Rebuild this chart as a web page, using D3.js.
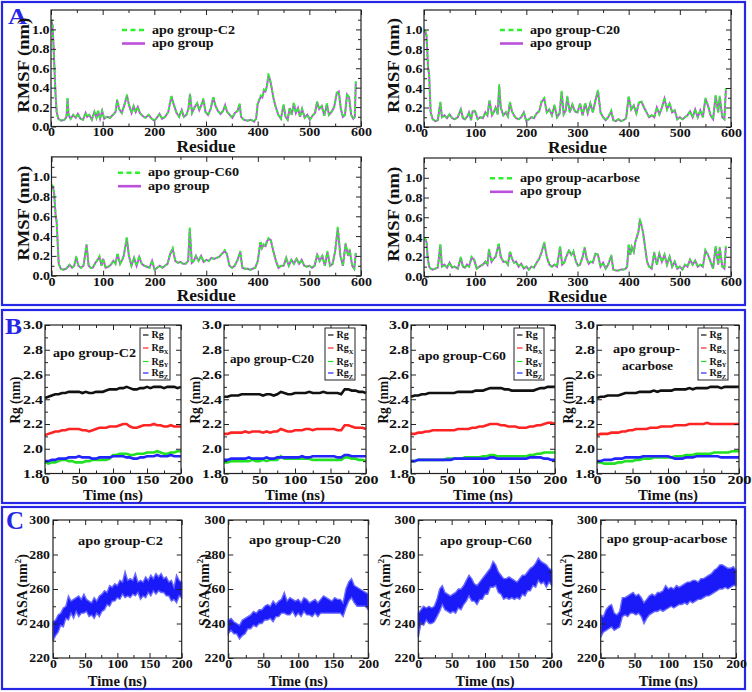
<!DOCTYPE html>
<html>
<head>
<meta charset="utf-8">
<script src="https://cdn.jsdelivr.net/npm/d3@7"></script>
<style>
body { margin: 0; background: #fff; }
text { font-family: "Liberation Serif", "Times New Roman", serif; font-weight: bold; }
</style>
</head>
<body>
<svg id="fig" width="752" height="692"></svg>
<script>
// ---- RMSF data (panel A), residue positions read per panel ----
var resC2 = [1,3,5,7,9,11,14,20,26,30, 32,34,38,43,48,52,57,62,67,70, 74,79,84,88,91,95,99,103,108,114, 120,125,128,132,137,142,147,151,156,160, 164,168,172,177,183,189,195,200,205,210, 215,221,227,233,238,243,248,253,257,262, 266,269,273,278,283,287,291,295,299,304, 309,314,318,323,328,333,337,341,346,351, 356,361,365,368,373,380,387,393,397,400, 403,406,409,412,415,418,421,424,427,431, 435,440,445,450,454,458,462,466,470,474, 478,482,486,491,496,501,506,511,515,519, 524,529,534,538,543,548,553,557,561,565, 569,573,577,581,585,588,590];
var rmsfC2 = [1.10,1.05,0.80,0.55,0.30,0.15,0.08,0.06,0.07,0.10, 0.30,0.12,0.08,0.12,0.09,0.13,0.08,0.07,0.14,0.10, 0.12,0.07,0.15,0.09,0.17,0.08,0.16,0.08,0.10,0.09, 0.12,0.15,0.28,0.18,0.14,0.22,0.33,0.22,0.14,0.21, 0.15,0.20,0.14,0.11,0.09,0.12,0.08,0.06,0.09,0.13, 0.08,0.10,0.15,0.32,0.22,0.14,0.10,0.17,0.10,0.12, 0.18,0.34,0.14,0.20,0.24,0.17,0.22,0.29,0.15,0.12, 0.18,0.31,0.22,0.16,0.13,0.16,0.22,0.15,0.12,0.09, 0.14,0.16,0.24,0.10,0.07,0.06,0.07,0.05,0.08,0.24, 0.28,0.32,0.30,0.38,0.36,0.42,0.55,0.48,0.40,0.28, 0.20,0.12,0.08,0.23,0.10,0.07,0.19,0.12,0.25,0.14, 0.19,0.10,0.18,0.09,0.12,0.07,0.11,0.14,0.26,0.18, 0.21,0.11,0.24,0.12,0.15,0.20,0.35,0.36,0.18,0.10, 0.12,0.34,0.30,0.12,0.08,0.10,0.48];
var apoC2 = [1.08,1.04,0.82,0.56,0.31,0.15,0.08,0.06,0.07,0.10, 0.29,0.12,0.08,0.12,0.09,0.13,0.08,0.07,0.14,0.10, 0.12,0.07,0.15,0.09,0.16,0.08,0.16,0.08,0.10,0.09, 0.12,0.15,0.27,0.18,0.14,0.22,0.32,0.22,0.14,0.21, 0.15,0.20,0.14,0.11,0.09,0.12,0.08,0.06,0.09,0.13, 0.08,0.10,0.15,0.31,0.22,0.14,0.10,0.17,0.10,0.12, 0.18,0.33,0.14,0.20,0.24,0.17,0.22,0.28,0.15,0.12, 0.18,0.30,0.22,0.16,0.13,0.16,0.22,0.15,0.12,0.09, 0.14,0.16,0.23,0.10,0.07,0.06,0.07,0.05,0.08,0.23, 0.27,0.31,0.30,0.37,0.36,0.42,0.53,0.48,0.40,0.28, 0.20,0.12,0.08,0.22,0.10,0.07,0.19,0.12,0.24,0.14, 0.19,0.10,0.18,0.09,0.12,0.07,0.11,0.14,0.25,0.18, 0.21,0.11,0.23,0.12,0.15,0.20,0.34,0.36,0.18,0.10, 0.12,0.33,0.30,0.12,0.08,0.10,0.46];

var resC20 = [1,3,5,8,10,13,17,22,27,32, 35,40,45,50,55,60,66,72,76,80, 85,88,92,95,100,105,110,115,120,124, 128,133,137,140,144,147,150,155,160,164, 168,172,176,180,185,190,195,200,205,210, 215,220,225,230,235,240,245,250,255,260, 265,269,273,277,280,285,290,295,300,305, 310,315,320,325,330,335,340,345,350,355, 360,366,370,375,380,385,390,395,400,405, 410,415,420,425,430,435,440,445,450,455, 460,465,470,475,480,485,490,495,500,505, 510,515,520,525,530,535,540,545,550,555, 560,565,570,575,578,583,587,590];
var rmsfC20 = [1.00,0.98,0.95,0.60,0.55,0.15,0.08,0.06,0.07,0.26, 0.10,0.12,0.09,0.13,0.09,0.08,0.10,0.19,0.09,0.08, 0.11,0.15,0.07,0.16,0.17,0.08,0.10,0.09,0.15,0.12, 0.28,0.12,0.16,0.20,0.13,0.44,0.20,0.12,0.15,0.11, 0.26,0.16,0.12,0.09,0.08,0.10,0.15,0.06,0.08,0.10, 0.09,0.14,0.16,0.27,0.30,0.15,0.18,0.12,0.23,0.10, 0.14,0.37,0.13,0.17,0.32,0.15,0.23,0.16,0.15,0.24, 0.12,0.25,0.14,0.24,0.15,0.28,0.38,0.15,0.10,0.07, 0.10,0.17,0.07,0.06,0.08,0.06,0.07,0.09,0.32,0.18, 0.22,0.14,0.25,0.27,0.20,0.15,0.10,0.12,0.10,0.20, 0.13,0.20,0.30,0.18,0.25,0.15,0.17,0.08,0.10,0.08, 0.10,0.12,0.16,0.10,0.18,0.10,0.17,0.10,0.30,0.22, 0.12,0.08,0.33,0.15,0.32,0.10,0.08,0.40];
var apoC20 = [0.99,0.97,0.93,0.61,0.54,0.15,0.08,0.06,0.07,0.25, 0.10,0.12,0.09,0.13,0.09,0.08,0.10,0.18,0.09,0.08, 0.11,0.15,0.07,0.16,0.16,0.08,0.10,0.09,0.15,0.12, 0.27,0.12,0.16,0.20,0.13,0.42,0.20,0.12,0.15,0.11, 0.25,0.16,0.12,0.09,0.08,0.10,0.15,0.06,0.08,0.10, 0.09,0.14,0.16,0.26,0.29,0.15,0.18,0.12,0.22,0.10, 0.14,0.36,0.13,0.17,0.31,0.15,0.23,0.16,0.15,0.24, 0.12,0.24,0.14,0.24,0.15,0.27,0.37,0.15,0.10,0.07, 0.10,0.16,0.07,0.06,0.08,0.06,0.07,0.09,0.31,0.18, 0.22,0.14,0.25,0.26,0.20,0.15,0.10,0.12,0.10,0.20, 0.13,0.20,0.29,0.18,0.24,0.15,0.17,0.08,0.10,0.08, 0.10,0.12,0.16,0.10,0.18,0.10,0.17,0.10,0.29,0.22, 0.12,0.08,0.32,0.15,0.31,0.10,0.08,0.38];

var resC60 = [1,3,5,8,10,14,18,23,28,32, 35,40,44,48,52,57,62,68,72,76, 80,85,88,93,97,100,105,110,115,120, 124,128,133,137,140,146,150,155,160,165, 170,175,180,185,190,195,200,205,210,215, 220,225,230,235,240,245,250,255,260,265, 268,272,276,280,285,290,295,300,305,310, 315,320,325,330,336,340,345,350,355,360, 366,370,375,380,385,390,395,400,405,408, 411,415,418,421,425,430,435,440,445,450, 455,460,465,470,475,480,485,490,495,500, 505,510,515,520,525,530,535,540,545,550, 555,560,565,570,575,578,583,587,590];
var rmsfC60 = [0.92,0.90,0.85,0.62,0.55,0.12,0.07,0.06,0.07,0.09, 0.11,0.08,0.10,0.20,0.10,0.08,0.10,0.32,0.10,0.08, 0.08,0.13,0.15,0.20,0.10,0.17,0.08,0.09,0.11,0.15, 0.12,0.23,0.12,0.16,0.20,0.39,0.20,0.10,0.18,0.10, 0.20,0.12,0.10,0.09,0.08,0.15,0.06,0.08,0.10,0.08, 0.10,0.12,0.22,0.28,0.15,0.13,0.14,0.12,0.12,0.15, 0.49,0.13,0.15,0.20,0.15,0.20,0.14,0.16,0.15,0.18, 0.17,0.18,0.19,0.22,0.26,0.22,0.10,0.08,0.10,0.15, 0.25,0.08,0.07,0.07,0.06,0.07,0.08,0.15,0.35,0.28, 0.32,0.30,0.36,0.38,0.36,0.25,0.15,0.08,0.10,0.10, 0.18,0.10,0.16,0.12,0.17,0.12,0.16,0.10,0.09,0.10, 0.08,0.10,0.22,0.15,0.20,0.10,0.25,0.10,0.12,0.25, 0.50,0.20,0.10,0.33,0.20,0.27,0.10,0.07,0.24];
var apoC60 = [0.91,0.89,0.84,0.61,0.54,0.12,0.07,0.06,0.07,0.09, 0.11,0.08,0.10,0.19,0.10,0.08,0.10,0.31,0.10,0.08, 0.08,0.13,0.15,0.19,0.10,0.17,0.08,0.09,0.11,0.15, 0.12,0.22,0.12,0.16,0.20,0.38,0.20,0.10,0.18,0.10, 0.19,0.12,0.10,0.09,0.08,0.15,0.06,0.08,0.10,0.08, 0.10,0.12,0.22,0.27,0.15,0.13,0.14,0.12,0.12,0.15, 0.47,0.13,0.15,0.20,0.15,0.20,0.14,0.16,0.15,0.18, 0.17,0.18,0.19,0.22,0.25,0.22,0.10,0.08,0.10,0.15, 0.24,0.08,0.07,0.07,0.06,0.07,0.08,0.15,0.34,0.28, 0.31,0.30,0.35,0.37,0.36,0.25,0.15,0.08,0.10,0.10, 0.18,0.10,0.16,0.12,0.17,0.12,0.16,0.10,0.09,0.10, 0.08,0.10,0.21,0.15,0.20,0.10,0.24,0.10,0.12,0.25, 0.48,0.20,0.10,0.32,0.20,0.26,0.10,0.07,0.23];

var resAca = [1,3,5,7,10,13,17,22,27,32, 35,40,45,50,55,60,66,72,76,80, 84,88,93,98,103,108,115,120,124,127, 132,136,140,146,150,155,160,164,168,172, 176,180,185,190,195,200,205,210,215,220, 225,230,235,240,245,250,255,260,266,270, 274,278,283,288,292,297,301,305,310,314, 318,322,326,330,335,340,345,350,355,360, 366,370,375,380,385,390,394,397,400,403, 406,410,413,416,419,422,425,428,432,436, 440,445,450,455,460,465,470,475,480,485, 490,495,500,505,510,515,520,525,530,535, 540,545,550,555,560,565,570,575,578,583, 587,590];
var rmsfAca = [0.38,0.38,0.36,0.20,0.10,0.08,0.07,0.08,0.09,0.33, 0.10,0.12,0.09,0.14,0.09,0.10,0.08,0.20,0.10,0.09, 0.12,0.10,0.20,0.17,0.08,0.10,0.12,0.15,0.12,0.28, 0.15,0.18,0.20,0.34,0.20,0.15,0.15,0.12,0.26,0.18, 0.14,0.15,0.10,0.13,0.08,0.10,0.07,0.10,0.09,0.14, 0.18,0.25,0.35,0.20,0.12,0.10,0.12,0.10,0.31,0.12, 0.14,0.20,0.27,0.22,0.26,0.15,0.11,0.12,0.20,0.30, 0.18,0.13,0.15,0.14,0.24,0.22,0.10,0.14,0.08,0.12, 0.22,0.07,0.06,0.06,0.07,0.07,0.08,0.10,0.33,0.22, 0.30,0.25,0.35,0.40,0.45,0.59,0.52,0.45,0.30,0.15, 0.10,0.08,0.25,0.12,0.23,0.15,0.22,0.12,0.20,0.10, 0.15,0.08,0.10,0.07,0.12,0.10,0.17,0.12,0.16,0.10, 0.12,0.10,0.27,0.22,0.15,0.08,0.31,0.12,0.30,0.10, 0.08,0.31];
var apoAca = [0.37,0.37,0.35,0.20,0.10,0.08,0.07,0.08,0.09,0.32, 0.10,0.12,0.09,0.14,0.09,0.10,0.08,0.19,0.10,0.09, 0.12,0.10,0.19,0.17,0.08,0.10,0.12,0.15,0.12,0.27, 0.15,0.18,0.20,0.33,0.20,0.15,0.15,0.12,0.25,0.18, 0.14,0.15,0.10,0.13,0.08,0.10,0.07,0.10,0.09,0.14, 0.18,0.25,0.34,0.20,0.12,0.10,0.12,0.10,0.30,0.12, 0.14,0.20,0.26,0.22,0.25,0.15,0.11,0.12,0.20,0.29, 0.18,0.13,0.15,0.14,0.23,0.22,0.10,0.14,0.08,0.12, 0.21,0.07,0.06,0.06,0.07,0.07,0.08,0.10,0.32,0.22, 0.30,0.25,0.35,0.40,0.45,0.57,0.52,0.45,0.30,0.15, 0.10,0.08,0.24,0.12,0.23,0.15,0.22,0.12,0.20,0.10, 0.15,0.08,0.10,0.07,0.12,0.10,0.17,0.12,0.16,0.10, 0.12,0.10,0.26,0.22,0.15,0.08,0.30,0.12,0.29,0.10, 0.08,0.30];

// ---- Rg data (panel B), every 5 ns ----
var tRg = [0,5,10,15,20,25,30,35,40,45,50,55,60,65,70,75,80,85,90,95,100,105,110,115,120,125,130,135,140,145,150,155,160,165,170,175,180,185,190,195,200];
var rgC2  = [2.41,2.42,2.43,2.44,2.44,2.45,2.45,2.46,2.46,2.46, 2.46,2.45,2.46,2.45,2.45,2.46,2.46,2.46,2.47,2.48, 2.48,2.48,2.49,2.49,2.50,2.49,2.48,2.48,2.49,2.49, 2.50,2.49,2.50,2.50,2.50,2.49,2.50,2.50,2.50,2.49, 2.50];
var rgxC2 = [2.11,2.12,2.13,2.14,2.14,2.15,2.15,2.16,2.16,2.16, 2.16,2.15,2.15,2.14,2.15,2.16,2.17,2.17,2.17,2.18, 2.18,2.18,2.19,2.20,2.20,2.18,2.17,2.17,2.18,2.19, 2.19,2.19,2.20,2.19,2.19,2.18,2.18,2.19,2.18,2.18, 2.18];
var rgyC2 = [1.89,1.88,1.89,1.89,1.90,1.91,1.91,1.90,1.90,1.89, 1.89,1.89,1.90,1.90,1.91,1.91,1.91,1.91,1.91,1.92, 1.95,1.95,1.96,1.96,1.96,1.95,1.95,1.96,1.96,1.96, 1.97,1.97,1.97,1.98,1.97,1.96,1.96,1.97,1.97,1.98, 1.98];
var rgzC2 = [1.90,1.90,1.91,1.91,1.92,1.92,1.92,1.93,1.93,1.93, 1.94,1.93,1.93,1.93,1.92,1.92,1.93,1.93,1.93,1.93, 1.94,1.94,1.94,1.94,1.93,1.93,1.92,1.92,1.93,1.93, 1.94,1.94,1.94,1.95,1.94,1.94,1.94,1.95,1.94,1.94, 1.94];

var rgC20  = [2.42,2.42,2.43,2.43,2.43,2.44,2.44,2.44,2.44,2.44, 2.44,2.43,2.44,2.44,2.43,2.44,2.46,2.45,2.44,2.44, 2.45,2.45,2.45,2.45,2.46,2.45,2.45,2.45,2.46,2.45, 2.45,2.45,2.45,2.44,2.48,2.48,2.47,2.47,2.46,2.46, 2.45];
var rgxC20 = [2.12,2.12,2.13,2.13,2.13,2.13,2.14,2.13,2.14,2.14, 2.14,2.13,2.14,2.13,2.14,2.14,2.16,2.15,2.14,2.14, 2.15,2.15,2.15,2.16,2.16,2.15,2.16,2.16,2.16,2.16, 2.16,2.16,2.15,2.15,2.19,2.19,2.18,2.17,2.17,2.17, 2.16];
var rgyC20 = [1.89,1.89,1.90,1.90,1.90,1.90,1.90,1.90,1.91,1.90, 1.90,1.91,1.90,1.91,1.91,1.91,1.94,1.92,1.92,1.92, 1.92,1.92,1.92,1.92,1.92,1.91,1.91,1.91,1.91,1.91, 1.91,1.91,1.91,1.91,1.93,1.93,1.92,1.92,1.91,1.91, 1.90];
var rgzC20 = [1.91,1.91,1.92,1.92,1.92,1.92,1.92,1.93,1.92,1.92, 1.92,1.92,1.93,1.92,1.92,1.93,1.93,1.93,1.93,1.93, 1.93,1.93,1.94,1.93,1.93,1.94,1.94,1.94,1.94,1.94, 1.94,1.94,1.93,1.93,1.95,1.95,1.94,1.94,1.94,1.94, 1.94];

var rgC60  = [2.42,2.43,2.43,2.44,2.44,2.45,2.45,2.45,2.45,2.45, 2.45,2.45,2.45,2.46,2.46,2.46,2.46,2.46,2.47,2.47, 2.47,2.48,2.49,2.49,2.49,2.49,2.48,2.48,2.47,2.47, 2.47,2.47,2.47,2.47,2.47,2.48,2.49,2.49,2.50,2.50, 2.50];
var rgxC60 = [2.12,2.12,2.13,2.13,2.14,2.14,2.15,2.15,2.15,2.15, 2.15,2.15,2.15,2.16,2.16,2.16,2.16,2.17,2.17,2.18, 2.18,2.19,2.20,2.20,2.20,2.19,2.19,2.18,2.18,2.18, 2.17,2.17,2.17,2.18,2.18,2.19,2.19,2.20,2.21,2.21, 2.20];
var rgyC60 = [1.90,1.90,1.91,1.91,1.91,1.91,1.91,1.91,1.91,1.91, 1.92,1.92,1.92,1.92,1.92,1.93,1.93,1.93,1.93,1.93, 1.94,1.94,1.95,1.95,1.94,1.94,1.94,1.94,1.94,1.94, 1.94,1.94,1.94,1.95,1.95,1.96,1.96,1.97,1.97,1.97, 1.97];
var rgzC60 = [1.90,1.90,1.91,1.91,1.91,1.91,1.91,1.91,1.91,1.91, 1.91,1.91,1.92,1.92,1.92,1.92,1.92,1.92,1.92,1.92, 1.92,1.92,1.93,1.93,1.92,1.92,1.92,1.92,1.92,1.92, 1.92,1.92,1.92,1.93,1.93,1.93,1.93,1.92,1.92,1.91, 1.91];

var rgAca  = [2.41,2.42,2.42,2.43,2.43,2.43,2.43,2.44,2.45,2.45, 2.45,2.45,2.46,2.46,2.46,2.46,2.47,2.46,2.47,2.47, 2.47,2.47,2.48,2.48,2.48,2.48,2.49,2.48,2.49,2.49, 2.49,2.49,2.50,2.50,2.50,2.49,2.50,2.50,2.50,2.50, 2.50];
var rgxAca = [2.11,2.12,2.12,2.12,2.13,2.13,2.13,2.14,2.14,2.15, 2.15,2.16,2.16,2.16,2.16,2.17,2.17,2.17,2.18,2.18, 2.18,2.18,2.19,2.19,2.19,2.19,2.20,2.20,2.20,2.20, 2.20,2.21,2.20,2.20,2.20,2.20,2.20,2.20,2.20,2.20, 2.20];
var rgyAca = [1.89,1.89,1.88,1.88,1.88,1.88,1.89,1.89,1.90,1.90, 1.90,1.91,1.91,1.92,1.92,1.92,1.93,1.93,1.93,1.93, 1.93,1.93,1.94,1.94,1.94,1.95,1.95,1.95,1.96,1.96, 1.96,1.96,1.96,1.97,1.97,1.97,1.97,1.97,1.98,1.98, 1.98];
var rgzAca = [1.90,1.90,1.91,1.91,1.91,1.92,1.92,1.92,1.93,1.93, 1.93,1.93,1.93,1.94,1.94,1.94,1.94,1.94,1.94,1.94, 1.94,1.93,1.92,1.92,1.92,1.93,1.93,1.93,1.94,1.94, 1.94,1.94,1.94,1.94,1.94,1.93,1.93,1.93,1.93,1.93, 1.93];

// ---- SASA data (panel C): lower / upper edge of the fluctuation band, every 4 ns ----
var tSasa = [0,4,8,12,16,20,24,28,32,36,40,44,48,52,56,60,64,68,72,76,80,84,88,92,96,100,104,108,112,116,120,124,128,132,136,140,144,148,152,156,160,164,168,172,176,180,184,188,192,196,200];
var sasaC2Lo = [230,233,235,239,238,243,242,246,243,247, 244,246,246,247,244,245,243,246,244,247, 248,251,250,253,253,255,254,257,255,256, 255,257,256,258,254,256,255,258,256,259, 257,259,258,258,256,256,253,254,252,256, 255];
var sasaC2Hi = [241,242,245,246,249,250,256,253,254,255, 256,254,257,254,253,252,255,253,256,257, 259,258,262,261,263,262,265,264,270,265, 266,265,269,264,265,264,267,265,268,266, 269,267,269,266,267,264,265,261,268,265, 264];
var sasaC20Lo = [234,236,234,234,231,233,234,237,237,239, 238,240,240,242,242,243,241,244,244,246, 246,245,245,247,244,246,244,247,245,245, 244,246,244,246,246,246,246,246,246,246, 246,244,249,253,255,252,250,250,250,250, 248];
var sasaC20Hi = [242,243,241,240,239,242,243,244,245,247, 246,248,248,250,251,250,253,251,253,254, 258,253,255,254,253,254,252,255,254,252, 253,254,252,254,256,255,254,253,255,254, 254,252,260,264,266,262,261,260,259,258, 257];
var sasaC60Lo = [232,240,239,242,240,240,241,244,247,251, 248,247,246,247,246,249,248,251,253,256, 253,253,251,254,254,257,257,261,261,262, 258,257,254,255,254,255,254,255,254,257, 256,259,259,262,261,265,263,264,261,264, 262];
var sasaC60Hi = [246,248,250,249,250,249,250,254,260,262, 258,257,256,257,258,260,260,262,265,268, 266,263,262,264,266,268,270,272,276,274, 270,268,266,266,267,266,265,264,266,268, 268,270,272,273,275,278,276,275,274,272, 271];
var sasaAcaLo = [232,235,236,237,238,236,237,238,244,245, 244,246,246,245,246,244,240,243,245,246, 247,247,248,247,248,249,250,249,250,251, 251,252,251,253,252,253,254,254,255,256, 256,257,258,259,260,260,261,260,261,262, 262];
var sasaAcaHi = [245,244,248,250,251,246,245,247,255,255, 256,257,258,256,257,255,252,254,256,257, 256,258,258,259,262,260,261,260,262,261, 262,263,264,264,265,265,264,266,266,267, 268,269,271,272,274,274,273,272,272,273, 271];

// ---- tick values ----
var resTicks = [0,100,200,300,400,500,600], resMinor = [50,150,250,350,450,550];
var rmsfTicks = [0,0.2,0.4,0.6,0.8,1.0], rmsfMinor = [0.1,0.3,0.5,0.7,0.9,1.1];
var timeTicks = [0,50,100,150,200], timeMinor = [25,75,125,175];
var rgTicks = [1.8,2.0,2.2,2.4,2.6,2.8,3.0], rgMinor = [1.9,2.1,2.3,2.5,2.7,2.9];
var sasaTicks = [220,240,260,280,300], sasaMinor = [230,250,270,290];

var BLUE = "#2626e6", GREEN = "#2ef02e", PURPLE = "#bb50dc";
var svg = d3.select("#fig");

// stretch text sideways, the source figure is wider than its fonts
function widen(sel, k) {
  sel.each(function() {
    var w = this.getComputedTextLength();
    d3.select(this).attr("textLength", w * k).attr("lengthAdjust", "spacingAndGlyphs");
  });
}

function label(x, y, str, fs, len, opt) {
  opt = opt || {};
  var t = svg.append("text").attr("x", x).attr("y", y).attr("font-size", fs)
    .attr("text-anchor", opt.anchor || "start").attr("fill", opt.fill || "#111").text(str);
  if (len) t.attr("textLength", len).attr("lengthAdjust", "spacingAndGlyphs");
  if (opt.rot) t.attr("transform", "rotate(-90," + x + "," + y + ")");
  return t;
}

// frame with inward ticks on all four sides
function frame(x, y, o) {
  var g = svg.append("g");
  var xr = x.range(), yr = y.range();
  function add(axis, tr) {
    var a = g.append("g").attr("transform", tr).call(axis);
    a.select(".domain").remove();
    a.selectAll("line").attr("stroke", "#222");
    return a;
  }
  var bx = add(d3.axisBottom(x).tickValues(o.xt).tickSize(-5).tickPadding(o.padB).tickFormat(d3.format("d")), "translate(0," + yr[0] + ")");
  add(d3.axisBottom(x).tickValues(o.xm).tickSize(-3).tickFormat(""), "translate(0," + yr[0] + ")");
  add(d3.axisTop(x).tickValues(o.xt).tickSize(-5).tickFormat(""), "translate(0," + yr[1] + ")");
  add(d3.axisTop(x).tickValues(o.xm).tickSize(-3).tickFormat(""), "translate(0," + yr[1] + ")");
  var ly = add(d3.axisLeft(y).tickValues(o.yt).tickSize(-5).tickPadding(o.padL).tickFormat(o.yf), "translate(" + xr[0] + ",0)");
  add(d3.axisLeft(y).tickValues(o.ym).tickSize(-3).tickFormat(""), "translate(" + xr[0] + ",0)");
  add(d3.axisRight(y).tickValues(o.yt).tickSize(-5).tickFormat(""), "translate(" + xr[1] + ",0)");
  add(d3.axisRight(y).tickValues(o.ym).tickSize(-3).tickFormat(""), "translate(" + xr[1] + ",0)");
  [bx, ly].forEach(function(a) {
    a.selectAll("text").attr("font-size", o.fs).attr("fill", "#111").call(widen, o.k);
  });
  g.append("rect").attr("x", xr[0]).attr("y", yr[1]).attr("width", xr[1] - xr[0]).attr("height", yr[0] - yr[1])
    .attr("fill", "none").attr("stroke", "#222").attr("stroke-width", 1.2);
  return g;
}

// outer blue boxes and panel letters
[[2, 305], [310, 503], [507, 689]].forEach(function(b) {
  svg.append("rect").attr("x", 2).attr("y", b[0]).attr("width", 743).attr("height", b[1] - b[0])
    .attr("fill", "none").attr("stroke", BLUE).attr("stroke-width", 2.2);
});
label(8, 24, "A", 24, 19, {fill: BLUE});
label(5, 334, "B", 24, 17, {fill: BLUE});
label(6, 529, "C", 25, 18, {fill: BLUE});

// ---- panel A ----
var panelsA = [
  {res: resC2, lig: rmsfC2, apo: apoC2, name: "apo group-C2", len: 83, x: [51, 361], y: [126.5, 10], leg: [122, 30], yl: 23},
  {res: resC20, lig: rmsfC20, apo: apoC20, name: "apo group-C20", len: 90, x: [424, 731], y: [127, 10], leg: [500, 30], yl: 393},
  {res: resC60, lig: rmsfC60, apo: apoC60, name: "apo group-C60", len: 91, x: [51.5, 361], y: [275.7, 156.9], leg: [118, 172.7], yl: 23},
  {res: resAca, lig: rmsfAca, apo: apoAca, name: "apo group-acarbose", len: 120, x: [424, 731], y: [276.5, 158], leg: [490, 178.3], yl: 393}
];
panelsA.forEach(function(p) {
  var x = d3.scaleLinear().domain([0, 600]).range(p.x);
  var y = d3.scaleLinear().domain([0, 1.2]).range(p.y);
  var line = d3.line().x(function(d) { return x(d[0]); }).y(function(d) { return y(d[1]); });
  var apoPts = p.res.map(function(r, i) { return [r, p.apo[i]]; }).filter(function(d) { return d[1] != null; });
  var ligPts = p.res.map(function(r, i) { return [r, p.lig[i]]; }).filter(function(d) { return d[1] != null; });
  svg.append("path").datum(apoPts).attr("d", line).attr("fill", "none").attr("stroke", PURPLE).attr("stroke-width", 2);
  svg.append("path").datum(ligPts).attr("d", line).attr("fill", "none").attr("stroke", GREEN)
    .attr("stroke-width", 1.8).attr("stroke-dasharray", "3,2");
  frame(x, y, {xt: resTicks, xm: resMinor, yt: rmsfTicks, ym: rmsfMinor, yf: d3.format(".1f"), fs: 12.5, k: 1.12, padB: 1, padL: 1.5});

  // legend
  var lx = p.leg[0], ly = p.leg[1];
  svg.append("line").attr("x1", lx).attr("x2", lx + 23).attr("y1", ly).attr("y2", ly)
    .attr("stroke", GREEN).attr("stroke-width", 2.6).attr("stroke-dasharray", "5,3.5");
  svg.append("line").attr("x1", lx).attr("x2", lx + 23).attr("y1", ly + 13.5).attr("y2", ly + 13.5)
    .attr("stroke", PURPLE).attr("stroke-width", 2.6);
  label(lx + 30, ly + 3.5, p.name, 12.5, p.len);
  label(lx + 30, ly + 17, "apo group", 12.5, 61.7);

  var ym = (p.y[0] + p.y[1]) / 2 - 3;
  label(p.yl, ym, "RMSF (nm)", 16, 95, {anchor: "middle", rot: true}).attr("dy", "0.35em");
  label((p.x[0] + p.x[1]) / 2, p.y[0] + 25.5, "Residue", 16, 59, {anchor: "middle"});
});

// ---- panel B ----
var rgColors = ["#111111", "#ff2424", "#22e022", "#2424ff"];
var rgSubs = ["", "X", "Y", "Z"];
var panelsB = [
  {s: [rgC2, rgxC2, rgyC2, rgzC2], x: [45, 181], yl: 15, title: [["apo group-C2", 53, 357, 83]]},
  {s: [rgC20, rgxC20, rgyC20, rgzC20], x: [224, 366], yl: 195, title: [["apo group-C20", 230, 363, 84]]},
  {s: [rgC60, rgxC60, rgyC60, rgzC60], x: [411, 555], yl: 383, title: [["apo group-C60", 418, 360, 88]]},
  {s: [rgAca, rgxAca, rgyAca, rgzAca], x: [597, 739], yl: 568, title: [["apo group-", 613, 353, 67], ["acarbose", 622, 370, 51]]}
];
panelsB.forEach(function(p) {
  var x = d3.scaleLinear().domain([0, 200]).range(p.x);
  var y = d3.scaleLinear().domain([1.8, 3.0]).range([473.5, 325]);
  var line = d3.line().x(function(d, i) { return x(tRg[i]); }).y(function(d) { return y(d); });
  p.s.forEach(function(vals, j) {
    svg.append("path").datum(vals).attr("d", line).attr("fill", "none")
      .attr("stroke", rgColors[j]).attr("stroke-width", 2.6);
  });
  frame(x, y, {xt: timeTicks, xm: timeMinor, yt: rgTicks, ym: rgMinor, yf: d3.format(".1f"), fs: 12, k: 1.33, padB: 2, padL: 2});

  // legend box
  var bx = p.x[1] - 41, by = 328;
  svg.append("rect").attr("x", bx).attr("y", by).attr("width", 30).attr("height", 52)
    .attr("fill", "#fff").attr("stroke", "#222").attr("stroke-width", 1);
  [7, 20, 33.5, 45].forEach(function(dy, j) {
    svg.append("line").attr("x1", bx + 3).attr("x2", bx + 8.5).attr("y1", by + dy).attr("y2", by + dy)
      .attr("stroke", rgColors[j]).attr("stroke-width", 1.2);
    var t = svg.append("text").attr("x", bx + 11.5).attr("y", by + dy + 3).attr("font-size", 10).attr("fill", "#111").text("Rg");
    if (rgSubs[j]) t.append("tspan").attr("font-size", 6.5).attr("dy", 2.5).text(rgSubs[j]);
  });

  p.title.forEach(function(t) { label(t[1], t[2], t[0], 12.5, t[3]); });
  label(p.yl, 400, "Rg (nm)", 14.5, 47, {anchor: "middle", rot: true}).attr("dy", "0.35em");
  label((p.x[0] + p.x[1]) / 2, 500, "Time (ns)", 14, 60, {anchor: "middle"});
});

// ---- panel C ----
var panelsC = [
  {lo: sasaC2Lo, hi: sasaC2Hi, x: [53, 181.7], yl: 22, title: ["apo group-C2", 78, 545, 85]},
  {lo: sasaC20Lo, hi: sasaC20Hi, x: [228.3, 368.3], yl: 204, title: ["apo group-C20", 249, 544, 92]},
  {lo: sasaC60Lo, hi: sasaC60Hi, x: [418.3, 551.7], yl: 385, title: ["apo group-C60", 440, 545, 92]},
  {lo: sasaAcaLo, hi: sasaAcaHi, x: [600.7, 736], yl: 567, title: ["apo group-acarbose", 606.7, 543, 120.7]}
];
panelsC.forEach(function(p) {
  var x = d3.scaleLinear().domain([0, 200]).range(p.x);
  var y = d3.scaleLinear().domain([220, 300]).range([658, 520]);
  var area = d3.area().x(function(d, i) { return x(tSasa[i]); })
    .y0(function(d, i) { return y(p.lo[i]); }).y1(function(d, i) { return y(p.hi[i]); });
  svg.append("path").datum(tSasa).attr("d", area).attr("fill", "#1a1af8")
    .attr("stroke", "#6a6aff").attr("stroke-width", 1.4);
  frame(x, y, {xt: timeTicks, xm: timeMinor, yt: sasaTicks, ym: sasaMinor, yf: d3.format("d"), fs: 12, k: 1.15, padB: 1.5, padL: 3});

  label(p.title[1], p.title[2], p.title[0], 12.5, p.title[3]);
  var t = svg.append("text").attr("x", p.yl).attr("y", 590).attr("font-size", 14).attr("fill", "#111")
    .attr("text-anchor", "middle").attr("dy", "0.35em")
    .attr("transform", "rotate(-90," + p.yl + ",590)");
  t.append("tspan").text("SASA (nm");
  t.append("tspan").attr("font-size", 9).attr("dy", -6).text("2");
  t.append("tspan").attr("dy", 6).text(")");
  label((p.x[0] + p.x[1]) / 2, 685.5, "Time (ns)", 14, 59, {anchor: "middle"});
});
</script>
</body>
</html>
